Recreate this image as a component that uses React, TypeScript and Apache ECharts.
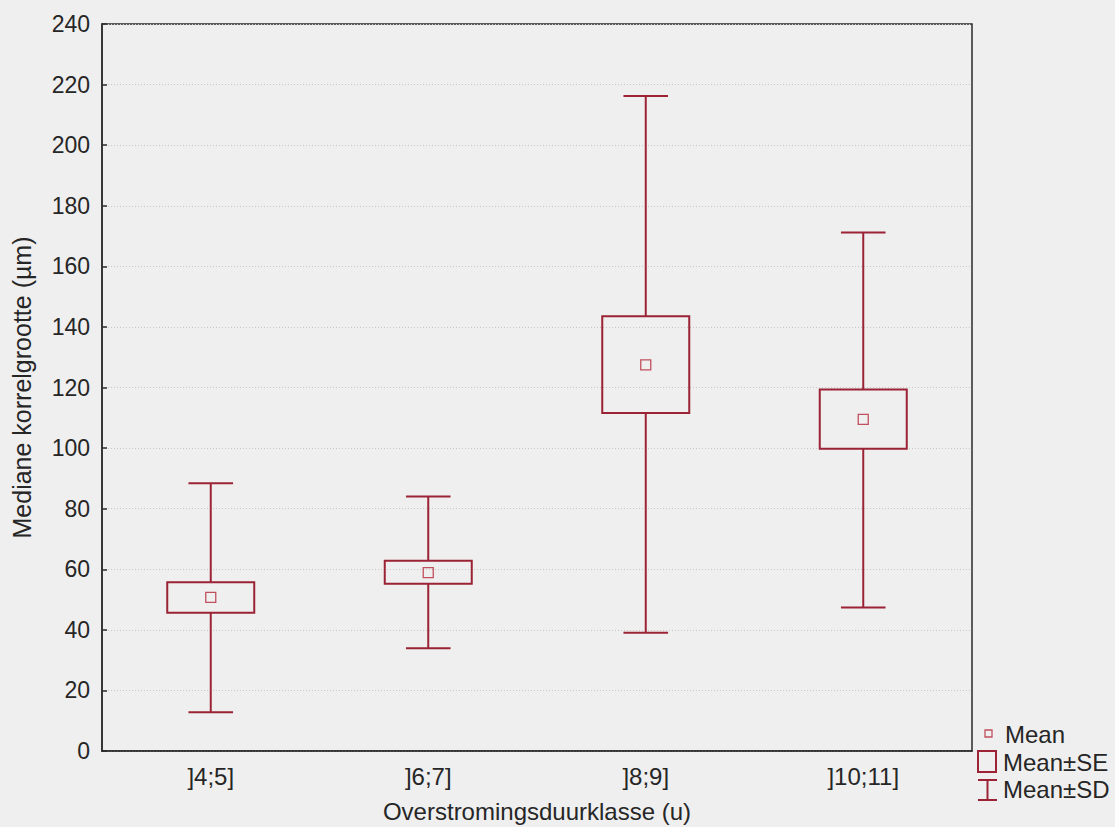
import React, { useEffect, useRef } from "react";
import * as echarts from "echarts";

// Duration classes and grain-size statistics (µm)
const categories = ["]4;5]", "]6;7]", "]8;9]", "]10;11]"];
const meanValues = [50.7, 58.9, 127.5, 109.5];
const seLow = [45.6, 55.2, 111.6, 99.8];
const seHigh = [55.7, 62.8, 143.5, 119.3];
const sdLow = [12.8, 33.9, 39.0, 47.4];
const sdHigh = [88.4, 84.0, 216.2, 171.2];
const yTicks = { min: 0, max: 240, interval: 20 };

const RED = "#9b2335";
const MEAN_RED = "#c0505e";
const FONT = "Liberation Sans, Arial, sans-serif";
const TEXT = "#262626";

export default function App() {
  const ref = useRef<HTMLDivElement>(null);

  useEffect(() => {
    if (!ref.current) return;
    const chart = echarts.init(ref.current, null, { renderer: "svg" });

    const data = categories.map((_, i) => [
      i,
      meanValues[i],
      seLow[i],
      seHigh[i],
      sdLow[i],
      sdHigh[i],
    ]);

    const renderItem = (params: any, api: any) => {
      const x = api.value(0);
      const mean = api.coord([x, api.value(1)]);
      const seL = api.coord([x, api.value(2)]);
      const seH = api.coord([x, api.value(3)]);
      const sdL = api.coord([x, api.value(4)]);
      const sdH = api.coord([x, api.value(5)]);
      const band = api.size([1, 0])[0];
      const boxW = band * 0.4;
      const capW = band * 0.205;
      const cx = mean[0];
      const lineStyle = { stroke: RED, lineWidth: 2, fill: "none" };
      const m = 5;
      return {
        type: "group",
        children: [
          { type: "line", shape: { x1: cx, y1: sdH[1], x2: cx, y2: seH[1] }, style: lineStyle },
          { type: "line", shape: { x1: cx, y1: seL[1], x2: cx, y2: sdL[1] }, style: lineStyle },
          { type: "line", shape: { x1: cx - capW / 2, y1: sdH[1], x2: cx + capW / 2, y2: sdH[1] }, style: lineStyle },
          { type: "line", shape: { x1: cx - capW / 2, y1: sdL[1], x2: cx + capW / 2, y2: sdL[1] }, style: lineStyle },
          {
            type: "rect",
            shape: { x: cx - boxW / 2, y: seH[1], width: boxW, height: seL[1] - seH[1] },
            style: { stroke: RED, lineWidth: 2, fill: "none" },
          },
          {
            type: "rect",
            shape: { x: cx - m, y: mean[1] - m, width: 2 * m, height: 2 * m },
            style: { stroke: MEAN_RED, lineWidth: 1.3, fill: "none" },
          },
        ],
      };
    };

    const legendFont = { fontSize: 24, fontFamily: FONT, fill: TEXT };

    chart.setOption({
      animation: false,
      backgroundColor: "#efefef",
      grid: {
        left: 102,
        right: 143,
        top: 24,
        bottom: 76,
        outerBoundsMode: "none",
        containLabel: false,
        show: true,
        borderColor: "#2b2b2b",
        borderWidth: 1.5,
        backgroundColor: "transparent",
      },
      xAxis: {
        type: "category",
        data: categories,
        name: "Overstromingsduurklasse (u)",
        nameLocation: "middle",
        nameGap: 48,
        nameTextStyle: { fontSize: 24, fontFamily: FONT, color: TEXT },
        axisLine: { lineStyle: { color: "#2b2b2b", width: 1.5 } },
        axisTick: { inside: true, alignWithLabel: true, length: 5, lineStyle: { color: "#2b2b2b", width: 1.5 } },
        axisLabel: { fontSize: 24, fontFamily: FONT, color: TEXT, margin: 13 },
        splitLine: { show: false },
      },
      yAxis: {
        type: "value",
        min: yTicks.min,
        max: yTicks.max,
        interval: yTicks.interval,
        name: "Mediane korrelgrootte (µm)",
        nameLocation: "middle",
        nameGap: 68,
        nameTextStyle: { fontSize: 25, fontFamily: FONT, color: TEXT },
        axisLine: { show: true, lineStyle: { color: "#2b2b2b", width: 1.5 } },
        axisTick: { show: true, inside: true, length: 5, lineStyle: { color: "#2b2b2b", width: 1.5 } },
        axisLabel: { fontSize: 23, fontFamily: FONT, color: TEXT, margin: 12 },
        splitLine: { show: true, lineStyle: { color: "#c6c6c6", type: [1, 2], width: 1 } },
      },
      series: [
        {
          type: "custom",
          renderItem,
          data,
          encode: { x: 0, y: [1, 2, 3, 4, 5] },
          clip: false,
        },
      ],
      graphic: [
        // Mean symbol
        { type: "rect", shape: { x: 985, y: 730, width: 7, height: 7 }, style: { stroke: MEAN_RED, lineWidth: 1.3, fill: "none" } },
        { type: "text", x: 1005, y: 734, style: { ...legendFont, text: "Mean", verticalAlign: "middle" } },
        // Mean±SE symbol
        { type: "rect", shape: { x: 978, y: 751, width: 18, height: 21 }, style: { stroke: RED, lineWidth: 2, fill: "none" } },
        { type: "text", x: 1003, y: 762, style: { ...legendFont, text: "Mean±SE", verticalAlign: "middle" } },
        // Mean±SD symbol
        { type: "line", shape: { x1: 978, y1: 780, x2: 997, y2: 780 }, style: { stroke: RED, lineWidth: 2 } },
        { type: "line", shape: { x1: 987.5, y1: 780, x2: 987.5, y2: 800 }, style: { stroke: RED, lineWidth: 2 } },
        { type: "line", shape: { x1: 978, y1: 800, x2: 997, y2: 800 }, style: { stroke: RED, lineWidth: 2 } },
        { type: "text", x: 1003, y: 789, style: { ...legendFont, text: "Mean±SD", verticalAlign: "middle" } },
      ],
    });

    return () => chart.dispose();
  }, []);

  return (
    <div
      ref={ref}
      style={{ position: "fixed", left: 0, top: 0, width: 1115, height: 827 }}
    />
  );
}
